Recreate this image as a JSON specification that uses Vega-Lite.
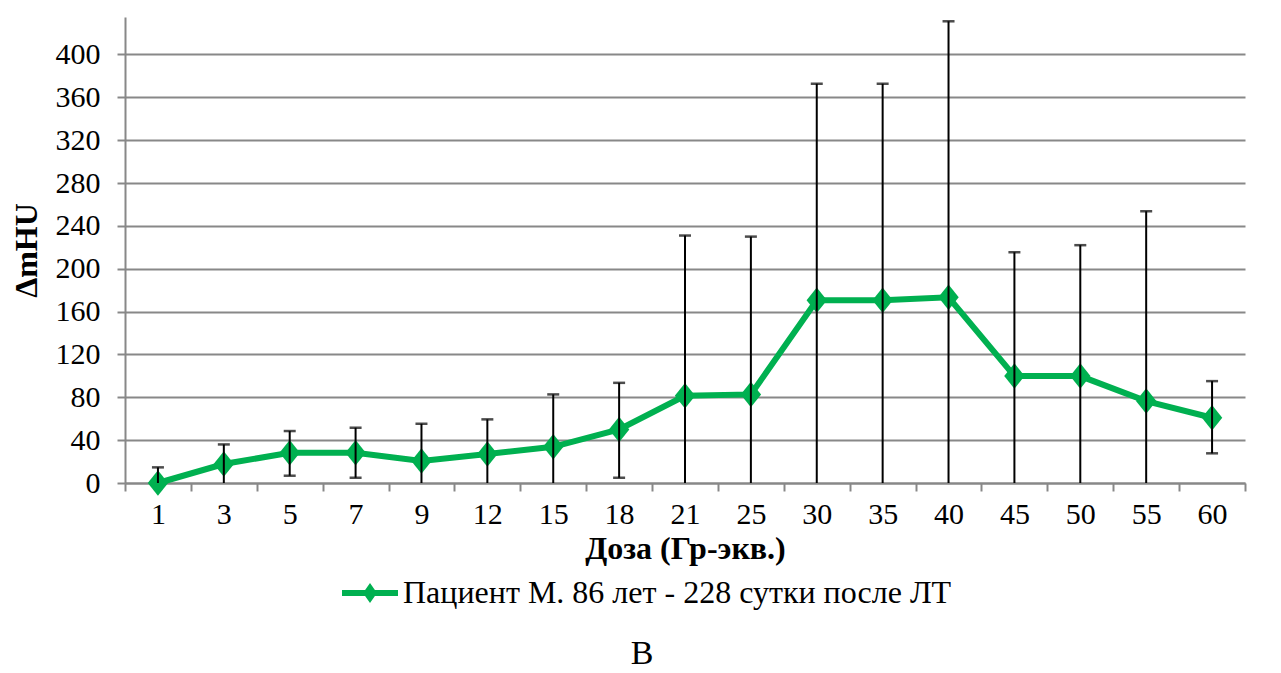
{
  "$schema": "https://vega.github.io/schema/vega-lite/v6.json",
  "width": 1120,
  "height": 466,
  "autosize": {"type": "none"},
  "padding": {"left": 125, "top": 17, "right": 36, "bottom": 190},
  "background": "white",
  "config": {
    "view": {"stroke": null},
    "font": "Liberation Serif",
    "text": {"font": "Liberation Serif"},
    "axis": {"labelFont": "Liberation Serif", "titleFont": "Liberation Serif", "labelColor": "black", "titleColor": "black"},
    "legend": {"labelFont": "Liberation Serif", "titleFont": "Liberation Serif"}
  },
  "title": {
    "text": "В",
    "orient": "bottom",
    "anchor": "middle",
    "frame": "group",
    "fontSize": 34,
    "fontWeight": "normal",
    "font": "Liberation Serif",
    "color": "black",
    "offset": 28,
    "dx": -43
  },
  "data": {
    "values": [
      {"dose": "1", "v": 0, "lo": 0, "hi": 14.6, "locap": null},
      {"dose": "3", "v": 17.7, "lo": 0, "hi": 36, "locap": null},
      {"dose": "5", "v": 28.3, "lo": 6.8, "hi": 48.5, "locap": 6.8},
      {"dose": "7", "v": 28.3, "lo": 4.9, "hi": 51.6, "locap": 4.9},
      {"dose": "9", "v": 20.5, "lo": 0, "hi": 55.3, "locap": null},
      {"dose": "12", "v": 27, "lo": 0, "hi": 59.4, "locap": null},
      {"dose": "15", "v": 33.8, "lo": 0, "hi": 82.7, "locap": null},
      {"dose": "18", "v": 50, "lo": 4.9, "hi": 93.5, "locap": 4.9},
      {"dose": "21", "v": 81.4, "lo": 0, "hi": 231, "locap": null},
      {"dose": "25", "v": 82.7, "lo": 0, "hi": 230, "locap": null},
      {"dose": "30", "v": 170.6, "lo": 0, "hi": 372.7, "locap": null},
      {"dose": "35", "v": 170.6, "lo": 0, "hi": 372.7, "locap": null},
      {"dose": "40", "v": 173.4, "lo": 0, "hi": 431, "locap": null},
      {"dose": "45", "v": 99.8, "lo": 0, "hi": 215.4, "locap": null},
      {"dose": "50", "v": 99.8, "lo": 0, "hi": 222, "locap": null},
      {"dose": "55", "v": 76.5, "lo": 0, "hi": 253.6, "locap": null},
      {"dose": "60", "v": 60.9, "lo": 27.7, "hi": 95.1, "locap": 27.7}
    ]
  },
  "encoding": {
    "x": {
      "field": "dose",
      "type": "ordinal",
      "sort": null,
      "scale": {"paddingInner": 0, "paddingOuter": 0},
      "axis": {
        "title": "Доза (Гр-экв.)",
        "titleFont": "Liberation Serif",
        "titleFontSize": 32,
        "titleFontWeight": "bold",
        "titlePadding": 4,
        "labelFont": "Liberation Serif",
        "labelFontSize": 30,
        "labelAngle": 0,
        "labelPadding": 8,
        "tickBand": "extent",
        "tickColor": "#888888",
        "tickWidth": 2,
        "tickSize": 8,
        "domainColor": "#888888",
        "domainWidth": 2,
        "grid": false
      }
    }
  },
  "layer": [
    {
      "mark": {"type": "line", "strokeWidth": 6},
      "encoding": {
        "y": {
          "field": "v",
          "type": "quantitative",
          "scale": {"domain": [0, 435], "nice": false, "zero": true},
          "axis": {
            "title": "ΔmHU",
            "titleFont": "Liberation Serif",
            "titleFontSize": 32,
            "titleFontWeight": "bold",
            "titlePadding": 12,
            "values": [0, 40, 80, 120, 160, 200, 240, 280, 320, 360, 400],
            "labelFont": "Liberation Serif",
            "labelFontSize": 30,
            "labelPadding": 17,
            "tickColor": "#888888",
            "tickWidth": 2,
            "tickSize": 8,
            "domainColor": "#888888",
            "domainWidth": 2,
            "grid": true,
            "gridColor": "#888888",
            "gridWidth": 2
          }
        },
        "color": {
          "datum": "Пациент М. 86 лет - 228 сутки после ЛТ",
          "type": "nominal",
          "scale": {"range": ["#00B050"]},
          "legend": {
            "title": null,
            "orient": "none",
            "legendX": 217,
            "legendY": 548,
            "padding": 0,
            "labelFont": "Liberation Serif",
            "labelFontSize": 32,
            "labelColor": "black",
            "labelLimit": 1000,
            "labelOffset": 5,
            "symbolType": "M-1,-0.11H1V0.11H-1Z M0,-0.36L0.25,0L0,0.36L-0.25,0Z",
            "symbolSize": 3136,
            "symbolStrokeWidth": 0,
            "encode": {
              "symbols": {"update": {"fill": {"value": "#00B050"}, "stroke": {"value": "#00B050"}, "strokeWidth": {"value": 0}}}
            }
          }
        }
      }
    },
    {
      "mark": {"type": "point", "shape": "M0,-1L0.8,0L0,1L-0.8,0Z", "filled": true, "opacity": 1, "size": 650, "color": "#00B050"},
      "encoding": {"y": {"field": "v", "type": "quantitative"}}
    },
    {
      "mark": {"type": "rule", "color": "black", "strokeWidth": 2},
      "encoding": {"y": {"field": "lo", "type": "quantitative"}, "y2": {"field": "hi"}}
    },
    {
      "mark": {"type": "tick", "color": "black", "thickness": 2.5, "size": 12, "orient": "horizontal"},
      "encoding": {"y": {"field": "hi", "type": "quantitative"}}
    },
    {
      "transform": [{"filter": "datum.locap != null"}],
      "mark": {"type": "tick", "color": "black", "thickness": 2.5, "size": 12, "orient": "horizontal"},
      "encoding": {"y": {"field": "locap", "type": "quantitative"}}
    }
  ]
}
